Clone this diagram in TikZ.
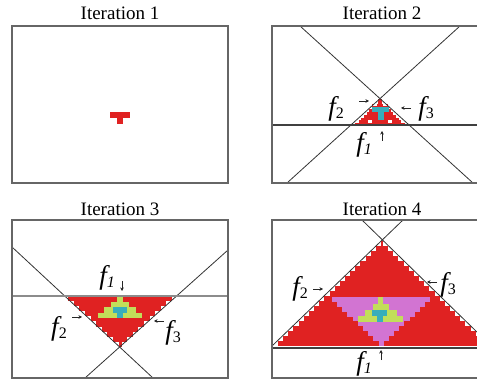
\documentclass[tikz,border=0pt]{standalone}
\usepackage{fontspec}
\setmainfont{Liberation Serif}
\usetikzlibrary{arrows.meta}

\definecolor{cellred}{HTML}{E02222}
\definecolor{cellpink}{HTML}{D274D2}
\definecolor{cellgreen}{HTML}{C2DE5A}
\definecolor{cellcyan}{HTML}{38AEBB}
\definecolor{framegray}{HTML}{666666}

\newcommand*{\flab}[1]{{\fontsize{27}{27}\selectfont\itshape f}{\fontsize{16}{16}\selectfont\raisebox{-3pt}{#1}}}

\begin{document}
\begin{tikzpicture}
[
	x=1pt,y=-1pt,
	frame/.style={draw=framegray,line width=1.3pt},
	cut/.style={draw=black!80,line width=0.8pt},
	base/.style={draw=black!75,line width=1.1pt},
	title/.style={inner sep=0pt,font=\fontsize{19}{19}\selectfont},
	lab/.style={inner sep=0pt},
	arr/.style={-{Stealth[length=3.5pt,width=3.5pt]},line width=0.6pt,black!85}
]
	\useasboundingbox (0,0) rectangle (477,382);

	% titles
	\node[title] (title1) at (120,13) {Iteration 1};
	\node[title] (title2) at (382,13) {Iteration 2};
	\node[title] (title3) at (120,209) {Iteration 3};
	\node[title] (title4) at (382,209) {Iteration 4};

	% iteration 1
	\fill[cellred] (110,112.5) rectangle (130,118);
	\fill[cellred] (116.5,118) rectangle (123,124.5);
	\draw[frame] (12,26) rectangle (228,183);

	% iteration 2
	\foreach \k in {0,...,4}
		\fill[cellred] ({380-2-5.7*\k},{99+5.2*\k}) rectangle ({380+2+5.7*\k},{99+5.2*(\k+1)});
	\foreach \cx/\cy in {375/104.5,385/104.5,367/110,393/110,362/116,398/116,357/121.5,403/121.5,370/121.5,390/121.5}
		\fill[white] (\cx-1.8,\cy-1.8) rectangle (\cx+1.8,\cy+1.8);
	\fill[cellcyan] (372,107) rectangle (389,112);
	\fill[cellcyan] (377.5,112) rectangle (383.5,120);
	\draw[cut] (300,26) -- (473,183);
	\draw[cut] (460,26) -- (287,183);
	\draw[base] (272,125) -- (480,125);
	\draw[frame] (272,26) rectangle (480,183);

	\node[lab] (p2f2) at (336,109) {\flab{2}};
	\node[lab] (p2f3) at (426,109) {\flab{3}};
	\node[lab] (p2f1) at (364,145) {\flab{\itshape 1}};
	\coordinate (p2t2) at (369,101);
	\coordinate (p2t3) at (401,108);
	\coordinate (p2t1) at (382,131);
	\draw[arr] ([xshift=-10pt]p2t2) -- (p2t2);
	\draw[arr] ([xshift=10pt]p2t3) -- (p2t3);
	\draw[arr] ([yshift=-10pt]p2t1) -- (p2t1);

	% iteration 3
	\foreach \k in {0,...,9}
		\fill[cellred] ({120-1.5-5.6*\k},{347-5.1*(\k+1)}) rectangle ({120+1.5+5.6*\k},{347-5.1*\k});
	\fill[cellgreen] (117,296) rectangle (123,302);
	\fill[cellgreen] (111,302) rectangle (129,307.5);
	\fill[cellgreen] (104,307.5) rectangle (136,313);
	\fill[cellgreen] (98,313) rectangle (142,318.5);
	\fill[cellcyan] (112.5,307.5) rectangle (126.5,313);
	\fill[cellcyan] (116.5,313) rectangle (122.5,318.5);
	\draw[cut] (12,247) -- (153,378);
	\draw[cut] (228,250) -- (85,378);
	\draw[draw=black!45,line width=1.4pt] (12,296) -- (228,296);
	\draw[frame] (12,220) rectangle (228,378);

	\node[lab] (p3f1) at (107,278) {\flab{\itshape 1}};
	\node[lab] (p3f2) at (59,329) {\flab{2}};
	\node[lab] (p3f3) at (173,333) {\flab{3}};
	\coordinate (p3t1) at (122,291);
	\coordinate (p3t2) at (82,317);
	\coordinate (p3t3) at (154,321);
	\draw[arr] ([yshift=10pt]p3t1) -- (p3t1);
	\draw[arr] ([xshift=-10pt]p3t2) -- (p3t2);
	\draw[arr] ([xshift=10pt]p3t3) -- (p3t3);

	% iteration 4
	\foreach \k in {0,...,20}
		\fill[cellred] ({382-1-5.15*\k},{241+5*\k}) rectangle ({382+1+5.15*\k},{246+5*\k});
	\foreach \k in {0,...,9}
		\fill[cellpink] ({381-2.5-5.2*\k},{346-4.9*(\k+1)}) rectangle ({381+2.5+5.2*\k},{346-4.9*\k});
	\fill[cellgreen] (378,297.5) rectangle (383,304.5);
	\fill[cellgreen] (372.5,304.5) rectangle (388.5,310);
	\fill[cellgreen] (365,310) rectangle (397,316.5);
	\fill[cellgreen] (358,316.5) rectangle (403,322);
	\fill[cellcyan] (372,310) rectangle (387,316.5);
	\fill[cellcyan] (376.5,316.5) rectangle (383,322);
	\draw[cut] (362,220) -- (480,335);
	\draw[cut] (403,220) -- (272,346);
	\draw[base] (272,348) -- (480,348);
	\draw[frame] (272,220) rectangle (480,378);

	\node[lab] (p4f2) at (300,289) {\flab{2}};
	\node[lab] (p4f3) at (448,285) {\flab{3}};
	\node[lab] (p4f1) at (364,364) {\flab{\itshape 1}};
	\coordinate (p4t2) at (323,289);
	\coordinate (p4t3) at (427,282);
	\coordinate (p4t1) at (381,350);
	\draw[arr] ([xshift=-10pt]p4t2) -- (p4t2);
	\draw[arr] ([xshift=10pt]p4t3) -- (p4t3);
	\draw[arr] ([yshift=-10pt]p4t1) -- (p4t1);

\end{tikzpicture}
\end{document}
